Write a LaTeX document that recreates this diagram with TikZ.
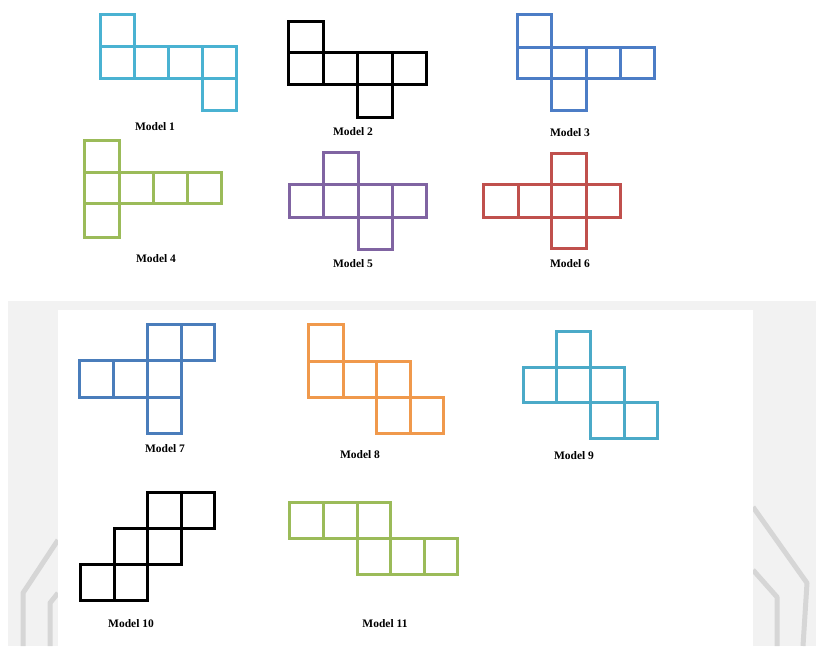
\documentclass[tikz,border=0pt]{standalone}
\usepackage{fontspec}
\setmainfont{Liberation Serif}
\definecolor{cyanA}{HTML}{4AB2D2}
\definecolor{cyanB}{HTML}{4BAAC8}
\definecolor{blueA}{HTML}{4C7DC6}
\definecolor{blueB}{HTML}{4A7DBB}
\definecolor{greenA}{HTML}{9BBB59}
\definecolor{purpleA}{HTML}{8064A2}
\definecolor{redA}{HTML}{C0504D}
\definecolor{orangeA}{HTML}{F0994C}
\definecolor{panelgray}{HTML}{F2F2F2}
\definecolor{wmgray}{HTML}{D6D6D6}
\begin{document}
\begin{tikzpicture}[x=1pt,y=-1pt,
  cellline/.style={line width=3pt,line join=miter},
  lbl/.style={font=\fontsize{11.5}{13}\selectfont\bfseries,inner sep=0pt,anchor=center},
  wm/.style={draw=wmgray,line width=5pt,line join=round}]
\useasboundingbox (0,0) rectangle (816,646);
\fill[white] (0,0) rectangle (816,646);
% lower panel
\fill[panelgray] (8,301) rectangle (816,646);
% watermark traces
\draw[wm] (753,507) -- (807,583) -- (803,646);
\draw[wm] (753,570) -- (777,597) -- (777,646);
\draw[wm] (58,540) -- (23,593) -- (23,646);
\draw[wm] (58,593) -- (50,603) -- (50,646);
\fill[white] (58,310) rectangle (753,646);
% Model 1
\foreach \a/\b/\c/\d in {100/14/134/46,100/46/134/78,134/46/168/78,168/46/202/78,202/46/236/78,202/78/236/110}
  \draw[cellline,cyanA] (\a,\b) rectangle (\c,\d);
\node[lbl] (m1) at (155,127) {Model 1};
% Model 2
\foreach \a/\b/\c/\d in {288/21/323/52,288/52/323/84,323/52/357/84,357/52/392/84,392/52/426/84,357/84/392/117}
  \draw[cellline,black] (\a,\b) rectangle (\c,\d);
\node[lbl] (m2) at (353,132) {Model 2};
% Model 3
\foreach \a/\b/\c/\d in {517/14/551/47,517/47/551/78,551/47/586/78,586/47/620/78,620/47/654/78,551/78/586/110}
  \draw[cellline,blueA] (\a,\b) rectangle (\c,\d);
\node[lbl] (m3) at (570,133) {Model 3};
% Model 4
\foreach \a/\b/\c/\d in {84/140/119/172,84/172/119/203,119/172/153/203,153/172/187/203,187/172/221/203,84/203/119/237}
  \draw[cellline,greenA] (\a,\b) rectangle (\c,\d);
\node[lbl] (m4) at (156,259) {Model 4};
% Model 5
\foreach \a/\b/\c/\d in {323/152/358/184,289/184/323/217,323/184/358/217,358/184/392/217,392/184/426/217,358/217/392/249}
  \draw[cellline,purpleA] (\a,\b) rectangle (\c,\d);
\node[lbl] (m5) at (353,264) {Model 5};
% Model 6
\foreach \a/\b/\c/\d in {551/153/586/184,483/184/518/217,518/184/551/217,551/184/586/217,586/184/620/217,551/217/586/248}
  \draw[cellline,redA] (\a,\b) rectangle (\c,\d);
\node[lbl] (m6) at (570,264) {Model 6};
% Model 7
\foreach \a/\b/\c/\d in {147/324/181/360,181/324/214/360,79/360/113/397,113/360/147/397,147/360/181/397,147/397/181/433}
  \draw[cellline,blueB] (\a,\b) rectangle (\c,\d);
\node[lbl] (m7) at (165,449) {Model 7};
% Model 8
\foreach \a/\b/\c/\d in {308/324/343/361,308/361/343/397,343/361/376/397,376/361/410/397,376/397/410/433,410/397/443/433}
  \draw[cellline,orangeA] (\a,\b) rectangle (\c,\d);
\node[lbl] (m8) at (360,455) {Model 8};
% Model 9
\foreach \a/\b/\c/\d in {556/331/590/367,523/367/556/402,556/367/590/402,590/367/624/402,590/402/624/438,624/402/657/438}
  \draw[cellline,cyanB] (\a,\b) rectangle (\c,\d);
\node[lbl] (m9) at (574,456) {Model 9};
% Model 10
\foreach \a/\b/\c/\d in {147/492/181/528,181/492/214/528,114/528/147/564,147/528/181/564,80/564/114/600,114/564/147/600}
  \draw[cellline,black] (\a,\b) rectangle (\c,\d);
\node[lbl] (m10) at (131,624) {Model 10};
% Model 11
\foreach \a/\b/\c/\d in {289/502/323/538,323/502/357/538,357/502/390/538,357/538/390/574,390/538/424/574,424/538/457/574}
  \draw[cellline,greenA] (\a,\b) rectangle (\c,\d);
\node[lbl] (m11) at (385,624) {Model 11};
\end{tikzpicture}
\end{document}
